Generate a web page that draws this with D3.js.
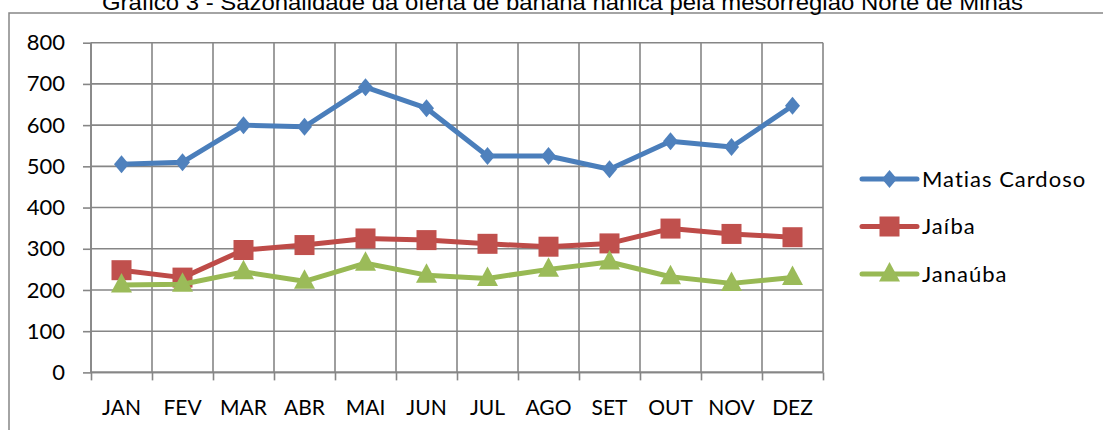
<!DOCTYPE html>
<html>
<head>
<meta charset="utf-8">
<script src="https://cdn.jsdelivr.net/npm/d3@7"></script>
<style>
  body { margin: 0; background: #fff; }
  svg { display: block; }
  text { font-family: Lato, "Noto Sans", sans-serif; fill: #000; }
</style>
</head>
<body>
<svg class="grafico" width="1103" height="430"></svg>
<script>
const meses = ['JAN', 'FEV', 'MAR', 'ABR', 'MAI', 'JUN', 'JUL', 'AGO', 'SET', 'OUT', 'NOV', 'DEZ']
const yTicks = [0, 100, 200, 300, 400, 500, 600, 700, 800]
const matiasCardoso = [505, 510, 600, 596, 692, 641, 525, 525, 493, 561, 547, 647]
const jaiba = [248, 230, 297, 309, 325, 321, 312, 305, 313, 349, 336, 328]
const janauba = [212, 214, 244, 221, 265, 236, 228, 250, 268, 232, 216, 230]
const nomes = ['Matias Cardoso', 'Jaíba', 'Janaúba']
const titulo = 'Gráfico 3 - Sazonalidade da oferta de banana nanica pela mesorregião Norte de Minas'

const series = [
  { nome: nomes[0], valores: matiasCardoso, linha: '#4a7ebb', cor: '#4f81bd', forma: 'diamante' },
  { nome: nomes[1], valores: jaiba, linha: '#be4b48', cor: '#c0504d', forma: 'quadrado' },
  { nome: nomes[2], valores: janauba, linha: '#98b954', cor: '#9bbb59', forma: 'triangulo' }
]

const svg = d3.select('.grafico')
const pEsq = 91, pDir = 823, pTopo = 42.7, pBase = 372.4
const grade = '#868686'

// moldura do grafico
svg.append('rect')
  .attr('x', 9).attr('y', 13)
  .attr('width', 1110).attr('height', 440)
  .attr('fill', 'none')
  .attr('stroke', grade)
  .attr('stroke-width', 1.5)

svg.append('text')
  .attr('x', 102).attr('y', 10)
  .attr('textLength', 921)
  .attr('lengthAdjust', 'spacingAndGlyphs')
  .style('font-family', '"Liberation Sans", Arial, sans-serif')
  .style('font-size', '22px')
  .text(titulo)

const y = d3.scaleLinear().domain([0, 800]).range([pBase, pTopo])
const x = d3.scaleBand().domain(meses).range([pEsq, pDir])
const xi = d3.scaleLinear().domain([0, meses.length]).range([pEsq, pDir])

// grades
svg.append('g')
  .selectAll('line')
  .data(yTicks)
  .join('line')
  .attr('x1', pEsq).attr('x2', pDir)
  .attr('y1', d => y(d)).attr('y2', d => y(d))
  .attr('stroke', grade)
  .attr('stroke-width', 1.6)

svg.append('g')
  .selectAll('line')
  .data(d3.range(meses.length + 1))
  .join('line')
  .attr('x1', d => xi(d)).attr('x2', d => xi(d))
  .attr('y1', pTopo).attr('y2', pBase)
  .attr('stroke', grade)
  .attr('stroke-width', 1.6)

// eixo y
const eixoY = svg.append('g')
  .attr('transform', `translate(${pEsq},0)`)
  .call(d3.axisLeft(y).tickValues(yTicks).tickSize(8).tickPadding(18))
eixoY.selectAll('line, path').attr('stroke', grade).attr('stroke-width', 1.6)
eixoY.select('.domain').attr('d', `M0,${pTopo}V${pBase}`)
eixoY.selectAll('text').style('font-size', '22px').style('font-family', 'Lato')

// eixo x
const eixoX = svg.append('g')
  .attr('transform', `translate(0,${pBase})`)
  .call(d3.axisBottom(xi).tickValues(d3.range(meses.length + 1)).tickSize(8).tickFormat(''))
eixoX.selectAll('line, path').attr('stroke', grade).attr('stroke-width', 1.6)
eixoX.select('.domain').attr('d', `M${pEsq},0H${pDir}`)

const rotulos = svg.append('g')
  .attr('transform', `translate(0,${pBase})`)
  .call(d3.axisBottom(x).tickSize(0).tickPadding(28))
rotulos.select('.domain').remove()
rotulos.selectAll('text').style('font-size', '21px').style('font-family', 'Lato')

// marcadores
function marcador(sel, s) {
  if (s.forma === 'diamante') {
    sel.append('path').attr('d', 'M0,-9L7.5,0L0,9L-7.5,0Z')
  } else if (s.forma === 'quadrado') {
    sel.append('rect').attr('x', -10).attr('y', -10).attr('width', 20).attr('height', 20)
  } else {
    sel.append('path').attr('d', 'M0,-12L10.5,7.5L-10.5,7.5Z')
  }
  sel.selectAll('*').attr('fill', s.cor)
}

const linha = d3.line()
  .x((d, i) => x(meses[i]) + x.bandwidth() / 2)
  .y(d => y(d))

series.forEach(s => {
  svg.append('path')
    .datum(s.valores)
    .attr('d', linha)
    .attr('fill', 'none')
    .attr('stroke', s.linha)
    .attr('stroke-width', 5)
    .attr('stroke-linejoin', 'round')
    .attr('stroke-linecap', 'round')

  svg.append('g')
    .selectAll('g')
    .data(s.valores)
    .join('g')
    .attr('transform', (d, i) => `translate(${x(meses[i]) + x.bandwidth() / 2},${y(d)})`)
    .each(function () { marcador(d3.select(this), s) })
})

// legenda
const legenda = svg.append('g')
  .selectAll('g')
  .data(series)
  .join('g')
  .attr('transform', (d, i) => `translate(862,${179 + i * 47.5})`)

legenda.append('line')
  .attr('x1', 0).attr('x2', 55)
  .attr('stroke', d => d.linha)
  .attr('stroke-width', 5)
  .attr('stroke-linecap', 'round')

legenda.append('g')
  .attr('transform', 'translate(27.5,0)')
  .each(function (d) { marcador(d3.select(this), d) })

legenda.append('text')
  .attr('x', 60)
  .attr('dy', '0.36em')
  .style('font-size', '22px')
  .style('letter-spacing', '1px')
  .text(d => d.nome)
</script>
</body>
</html>
